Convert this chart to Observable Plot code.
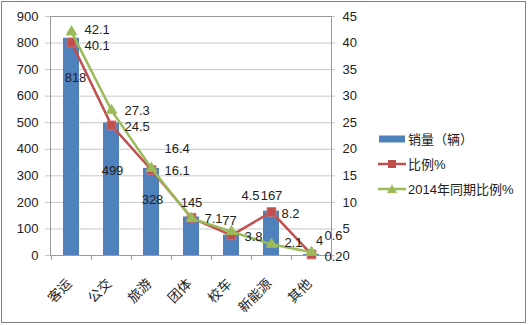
<!DOCTYPE html>
<html><head><meta charset="utf-8">
<script src="https://cdn.jsdelivr.net/npm/d3@7"></script>
<script src="https://cdn.jsdelivr.net/npm/@observablehq/plot@0.6"></script>
<style>
body{margin:0;background:#fff;}
#wrap{position:relative;width:530px;height:325px;overflow:hidden;font-family:"Liberation Sans","Noto Sans CJK SC",sans-serif;}
#frame{position:absolute;left:1px;top:1px;width:523px;height:320px;border:1px solid #808080;pointer-events:none}
#chart{position:absolute;left:0;top:0}
#legend{position:absolute;left:378px;top:126px;font-size:13px;color:#222}
.item{display:flex;align-items:center;height:25px;white-space:nowrap}
.item svg{margin-right:2px}
</style></head><body><div id="wrap"><div id="chart"></div><div id="legend"></div><div id="frame"></div></div>
<script>
// ---- data ----
const categories = ["客运", "公交", "旅游", "团体", "校车", "新能源", "其他"];
const sales = [818, 499, 328, 145, 77, 167, 4];
const ratio = [40.1, 24.5, 16.1, 7.1, 3.8, 8.2, 0.2];
const ratio2014 = [42.1, 27.3, 16.4, 7.0, 4.5, 2.1, 0.6];
const leftTicks = [0, 100, 200, 300, 400, 500, 600, 700, 800, 900];
const rightTicks = [0, 5, 10, 15, 20, 25, 30, 35, 40, 45];
const seriesNames = ["销量（辆）", "比例%", "2014年同期比例%"];
// labels shown in the reference (green label for 团体 is hidden there)
const showGreenLabel = [true, true, true, false, true, true, true];

// ---- layout / style (label nudges in pixels) ----
const barLabelNudge = [[4, 40], [1, 48], [1, 31], [0, -14], [-2, -14], [0, -15], [8, -14]];
const redLabelNudge = [[13, 3], [13, 1], [13, 1], [13, 1], [13, 2], [10, 2], [13, 2]];
const greenLabelNudge = [[13, -2], [13, 0], [13, -20], [13, 0], [10, -36], [13, -2], [13, -16]];
const blue = "#4F81BD", red = "#C0504D", green = "#9BBB59";
const k = leftTicks[leftTicks.length - 1] / rightTicks[rightTicks.length - 1];

const rows = categories.map((c, i) => ({c, s: sales[i], r: ratio[i] * k, g: ratio2014[i] * k, rv: ratio[i], gv: ratio2014[i]}));

const W = 530, H = 325, mL = 50, mR = 199;
const step = (W - mL - mR) / categories.length;
const font = '"Liberation Sans","Noto Sans CJK SC",sans-serif';

const labelMarks = [];
rows.forEach((d, i) => {
  labelMarks.push(Plot.text([d], {x: "c", y: "s", text: d => String(d.s), dx: barLabelNudge[i][0], dy: barLabelNudge[i][1], fill: "#222", fontSize: 13}));
});
rows.forEach((d, i) => {
  labelMarks.push(Plot.text([d], {x: "c", y: "r", text: d => String(d.rv), textAnchor: "start", dx: redLabelNudge[i][0], dy: redLabelNudge[i][1], fill: "#222", fontSize: 13}));
  if (showGreenLabel[i]) labelMarks.push(Plot.text([d], {x: "c", y: "g", text: d => String(d.gv), textAnchor: "start", dx: greenLabelNudge[i][0], dy: greenLabelNudge[i][1], fill: "#222", fontSize: 13}));
});

const chart = Plot.plot({
  width: W, height: H,
  marginLeft: mL, marginRight: mR, marginTop: 16, marginBottom: 70,
  x: {type: "band", domain: categories, paddingInner: 0.6, paddingOuter: 0.3, axis: null, label: null},
  y: {domain: [0, 900], axis: null, label: null},
  style: {fontFamily: font, fontSize: "13px", color: "#222", background: "transparent"},
  marks: [
    Plot.ruleY(leftTicks, {stroke: "#c8c8c8", strokeWidth: 1, insetLeft: -5, insetRight: -4}),
    Plot.frame({stroke: "#9a9a9a"}),
    Plot.axisX({ticks: categories, tickSize: 5, tickFormat: () => "", dx: -step / 2, stroke: "#9a9a9a", label: null}),
    Plot.axisX({ticks: categories.slice(-1), tickSize: 5, tickFormat: () => "", dx: step / 2, stroke: "#9a9a9a", label: null}),
    Plot.text(categories, {x: d => d, frameAnchor: "bottom", rotate: -45, textAnchor: "end", lineAnchor: "middle", dx: -2, dy: 26, fontSize: 13.5, fill: "#222"}),
    Plot.axisY({anchor: "left", ticks: leftTicks, tickSize: 0, tickPadding: 12, label: null, fill: "#222", fontSize: 13}),
    Plot.axisY({anchor: "right", ticks: rightTicks.map(v => v * k), tickFormat: d => String(d / k), tickSize: 0, tickPadding: 11, label: null, fill: "#222", fontSize: 13}),
    Plot.barY(rows, {x: "c", y: "s", fill: blue}),
    Plot.line(rows, {x: "c", y: "r", stroke: red, strokeWidth: 2.5}),
    Plot.dot(rows, {x: "c", y: "r", symbol: "square", r: 5, fill: red, stroke: "#d9706d", strokeWidth: 0.8}),
    Plot.line(rows, {x: "c", y: "g", stroke: green, strokeWidth: 2.5}),
    Plot.dot(rows, {x: "c", y: "g", symbol: "triangle", r: 4, fill: green, stroke: green, strokeWidth: 0.8}),
    ...labelMarks
  ]
});
document.getElementById("chart").append(chart);

// legend
const sw = [
  `<svg width="28" height="10"><rect x="1" y="1.5" width="26" height="7" fill="${blue}"/></svg>`,
  `<svg width="28" height="12"><line x1="0" y1="6" x2="28" y2="6" stroke="${red}" stroke-width="2.5"/><rect x="10" y="2" width="8" height="8" fill="${red}"/></svg>`,
  `<svg width="28" height="12"><line x1="0" y1="6" x2="28" y2="6" stroke="${green}" stroke-width="2.5"/><path d="M14,1.5 L19,10 L9,10 Z" fill="${green}"/></svg>`
];
document.getElementById("legend").innerHTML = seriesNames.map((n, i) => `<div class="item">${sw[i]}<span>${n}</span></div>`).join("");
</script>
</body></html>
